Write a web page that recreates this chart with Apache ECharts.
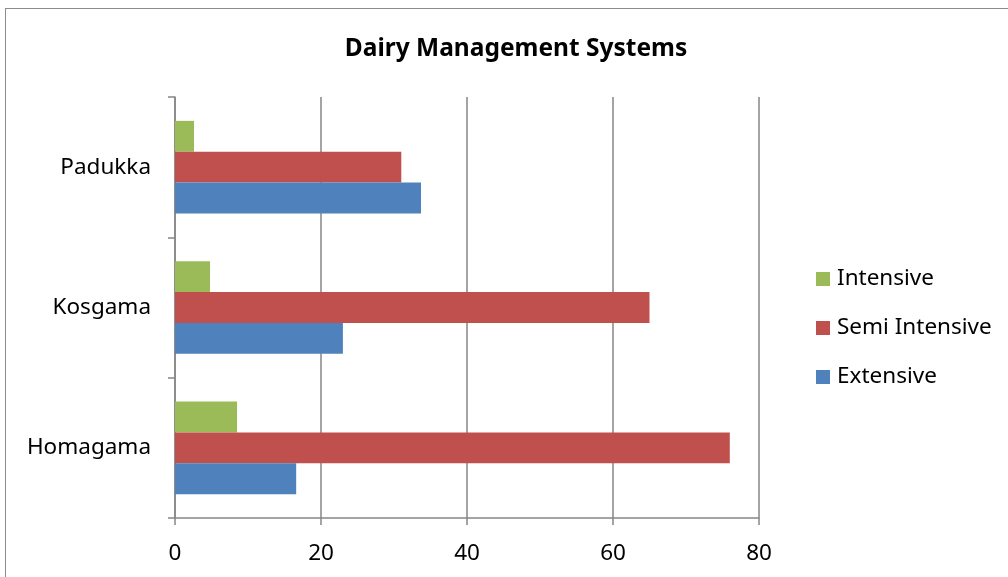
<!DOCTYPE html>
<html>
<head>
<meta charset="utf-8">
<script src="https://cdn.jsdelivr.net/npm/echarts@6/dist/echarts.min.js"></script>
<style>
html,body{margin:0;padding:0;background:#fff;}
#frame{position:absolute;left:5px;top:8px;width:1100px;height:700px;border:1.5px solid #8c8c8c;box-sizing:border-box;}
#chart{position:absolute;left:0;top:0;width:1008px;height:577px;}
</style>
</head>
<body>
<div id="frame"></div>
<div id="chart"></div>
<script>
const categories = ['Homagama', 'Kosgama', 'Padukka'];
const extensive = [16.6, 23.0, 33.7];
const semiIntensive = [76.0, 65.0, 31.0];
const intensive = [8.5, 4.8, 2.6];
const xTicks = [0, 20, 40, 60, 80];

const FONT = '"Noto Sans", "Open Sans", sans-serif';
const chart = echarts.init(document.getElementById('chart'), null, {renderer: 'canvas'});
chart.setOption({
  animation: false,
  backgroundColor: 'transparent',
  title: {
    text: 'Dairy Management Systems',
    left: 511, top: 32, textAlign: 'center',
    textStyle: {fontFamily: FONT, fontSize: 24.5, fontWeight: 'bold', color: '#000'}
  },
  legend: {
    orient: 'vertical',
    left: 811, top: 259,
    itemWidth: 14, itemHeight: 14, itemGap: 19,
    icon: 'rect',
    data: ['Intensive', 'Semi Intensive', 'Extensive'],
    textStyle: {fontFamily: FONT, fontSize: 22.5, color: '#000', lineHeight: 30, padding: [0, 0, 0, 2]}
  },
  grid: {left: 175, right: 1008 - 759, top: 97, bottom: 577 - 518, containLabel: false},
  xAxis: {
    type: 'value', min: xTicks[0], max: xTicks[xTicks.length - 1], interval: 20,
    axisLine: {show: true, lineStyle: {color: '#868686', width: 1.5}},
    axisTick: {show: true, length: 7, lineStyle: {color: '#868686', width: 1.5}},
    splitLine: {show: true, lineStyle: {color: '#868686', width: 1.5}},
    axisLabel: {fontFamily: FONT, fontSize: 22.5, color: '#000', margin: 24}
  },
  yAxis: {
    type: 'category', data: categories,
    axisLine: {show: true, lineStyle: {color: '#868686', width: 1.5}},
    axisTick: {show: true, length: 7, lineStyle: {color: '#868686', width: 1.5}},
    axisLabel: {fontFamily: FONT, fontSize: 22.5, color: '#000', margin: 24}
  },
  series: [
    {name: 'Intensive', type: 'bar', data: intensive, barGap: '0%', barCategoryGap: '34%', itemStyle: {color: '#9BBB59'}},
    {name: 'Semi Intensive', type: 'bar', data: semiIntensive, barGap: '0%', barCategoryGap: '34%', itemStyle: {color: '#C0504D'}},
    {name: 'Extensive', type: 'bar', data: extensive, barGap: '0%', barCategoryGap: '34%', itemStyle: {color: '#4F81BD'}}
  ]
});
</script>
</body>
</html>
